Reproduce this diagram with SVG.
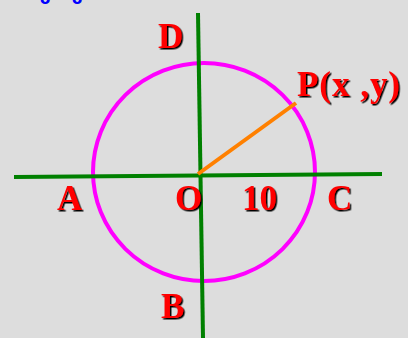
<svg xmlns="http://www.w3.org/2000/svg" width="408" height="338" viewBox="0 0 408 338">
<defs>
<filter id="sh" x="-20%" y="-20%" width="150%" height="150%">
<feDropShadow dx="1.5" dy="1.5" stdDeviation="0.4" flood-color="#000" flood-opacity="1"/>
</filter>
<style>
.lbl{font-family:"Liberation Serif","Times New Roman",serif;font-weight:bold;font-size:35px;fill:#ff0000;filter:url(#sh)}
.axis{stroke:#008000;stroke-width:4;fill:none}
.top{font-family:"DejaVu Sans",sans-serif;font-weight:bold;font-size:15px;fill:#0000ff}
</style>
</defs>
<rect width="408" height="338" fill="#dddddd"/>
<g id="title">
<text class="top" x="40" y="4">o</text>
<text class="top" x="72" y="4">o</text>
</g>
<g id="circle">
<ellipse cx="204" cy="172" rx="111" ry="109" fill="none" stroke="#ff00ff" stroke-width="4"/>
</g>
<g id="connectors">
<line class="axis" x1="14" y1="177" x2="382" y2="174"/>
<line class="axis" x1="198" y1="13" x2="203" y2="338"/>
<line x1="198" y1="174" x2="296" y2="103" stroke="#ff8000" stroke-width="4"/>
</g>
<g id="D"><text class="lbl" x="158" y="48">D</text></g>
<g id="P"><text class="lbl" x="297" y="96" textLength="103" lengthAdjust="spacing">P(x ,y)</text></g>
<g id="A"><text class="lbl" x="57" y="210">A</text></g>
<g id="O"><text class="lbl" x="175" y="210">O</text></g>
<g id="ten"><text class="lbl" x="242" y="210">10</text></g>
<g id="C"><text class="lbl" x="327" y="210">C</text></g>
<g id="B"><text class="lbl" x="161" y="318">B</text></g>
</svg>
